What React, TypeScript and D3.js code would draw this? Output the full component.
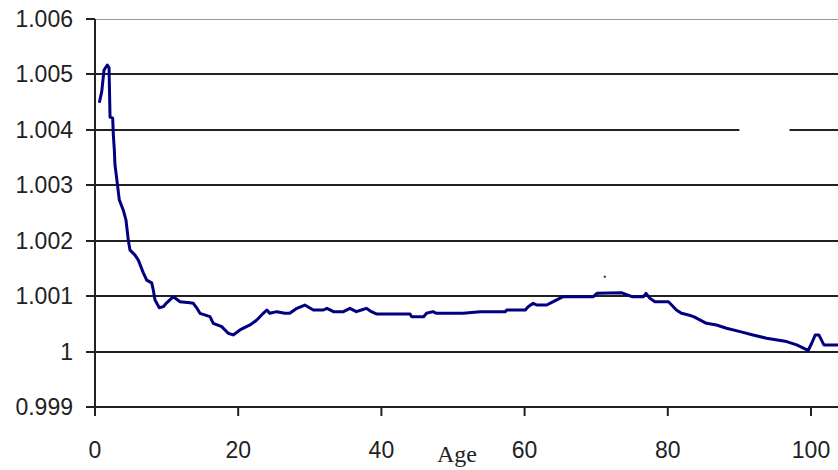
import React from "react";
import * as d3 from "d3";

const ages = [0.6, 0.94, 1.26, 1.72, 1.96, 2.1, 2.47, 2.56, 2.7, 2.79, 3.11, 3.39, 3.95, 4.33, 4.65, 4.89, 5.59, 6.05, 6.75, 7.22, 7.92, 8.14, 8.38, 8.98, 9.54, 10.01, 10.94, 11.87, 13.27, 13.73, 14.2, 14.66, 16.06, 16.52, 17.7, 18.6, 19.3, 20.25, 21.65, 22.6, 23.5, 24.0, 24.4, 25.4, 26.5, 27.2, 28.2, 29.3, 30.5, 31.9, 32.4, 33.3, 34.7, 35.6, 36.5, 37.2, 37.9, 38.6, 39.3, 44.0, 44.2, 45.9, 46.3, 47.2, 47.7, 51.4, 53.8, 57.3, 57.5, 60.1, 60.5, 61.2, 61.7, 63.1, 64.0, 64.9, 65.4, 69.6, 70.1, 73.6, 75.0, 76.6, 76.96, 77.5, 78.2, 80.1, 81.2, 81.9, 82.9, 83.6, 85.4, 86.8, 88.2, 90.1, 91.9, 93.8, 96.6, 98.0, 99.6, 100.1, 100.6, 101.1, 101.8, 103.6, 105];
const ratios = [1.00449, 1.00469, 1.00508, 1.00517, 1.00512, 1.00423, 1.00421, 1.00391, 1.00364, 1.00337, 1.00304, 1.00274, 1.00255, 1.00237, 1.00201, 1.00183, 1.00174, 1.00165, 1.00142, 1.00129, 1.00124, 1.00111, 1.00093, 1.00079, 1.00081, 1.00088, 1.00099, 1.0009, 1.00088, 1.00087, 1.00079, 1.00069, 1.00063, 1.00051, 1.00045, 1.00033, 1.0003, 1.00039, 1.00048, 1.00057, 1.00069, 1.00075, 1.00069, 1.00072, 1.00069, 1.00069, 1.00078, 1.00084, 1.00075, 1.00075, 1.00078, 1.00072, 1.00072, 1.00078, 1.00072, 1.00075, 1.00078, 1.00072, 1.00068, 1.00068, 1.00063, 1.00063, 1.00069, 1.00072, 1.00069, 1.00069, 1.00072, 1.00072, 1.00075, 1.00075, 1.00081, 1.00087, 1.00084, 1.00084, 1.0009, 1.00096, 1.00099, 1.00099, 1.00105, 1.00106, 1.00099, 1.00099, 1.00105, 1.00096, 1.0009, 1.0009, 1.00075, 1.00069, 1.00066, 1.00063, 1.00051, 1.00048, 1.00042, 1.00036, 1.0003, 1.00024, 1.00018, 1.00012, 1.00002, 1.00015, 1.0003, 1.0003, 1.00012, 1.00012, 1.00012];

const yTicks = [0.999, 1, 1.001, 1.002, 1.003, 1.004, 1.005, 1.006];
const yTickLabels = ["0.999", "1", "1.001", "1.002", "1.003", "1.004", "1.005", "1.006"];
const xTicks = [0, 20, 40, 60, 80, 100];
const xTitle = "Age";
const strayPoint = [{ age: 71.2, value: 1.00135 }];
const gridGap = { value: 1.004, from: 90, to: 97 };

export default function App() {
  const W = 838, H = 470;
  const x = d3.scaleLinear().domain([0, 100]).range([95, 811]);
  const y = d3.scaleLinear().domain([0.999, 1.006]).range([407, 19]);
  const xMax = 106;
  const data = ages.map((a, i) => ({ a, v: ratios[i] }));
  const line = d3.line<{ a: number; v: number }>().x(d => x(d.a)).y(d => y(d.v));
  const font = "'Liberation Sans', Arial, sans-serif";

  return (
    <svg width={W} height={H} style={{ position: "absolute", left: 0, top: 0, background: "#fff" }}>
      {yTicks.map((t, i) => {
        const yy = Math.round(y(t));
        if (i === 0) return null;
        if (t === 1.006) {
          return <line key={t} x1={x(0)} x2={x(xMax)} y1={yy + 0.5} y2={yy + 0.5} stroke="#999" strokeWidth={1} />;
        }
        if (t === gridGap.value) {
          return (
            <g key={t}>
              <line x1={x(0)} x2={x(gridGap.from)} y1={yy} y2={yy} stroke="#222" strokeWidth={2} />
              <line x1={x(gridGap.to)} x2={x(xMax)} y1={yy} y2={yy} stroke="#222" strokeWidth={2} />
            </g>
          );
        }
        return <line key={t} x1={x(0)} x2={x(xMax)} y1={yy} y2={yy} stroke="#222" strokeWidth={2} />;
      })}
      {/* x axis */}
      <line x1={x(0)} x2={x(xMax)} y1={Math.round(y(0.999))} y2={Math.round(y(0.999))} stroke="#222" strokeWidth={2} />
      {/* y axis */}
      <line x1={x(0)} x2={x(0)} y1={y(1.006)} y2={y(0.999) + 1} stroke="#222" strokeWidth={2} />
      {yTicks.map((t, i) => {
        const yy = Math.round(y(t));
        return (
          <g key={"yt" + t}>
            <line x1={86} x2={x(0)} y1={yy} y2={yy} stroke="#222" strokeWidth={2} />
            <text x={73} y={yy + 8} textAnchor="end" fontFamily={font} fontSize={23} fill="#222">{yTickLabels[i]}</text>
          </g>
        );
      })}
      {xTicks.map(t => (
        <g key={"xt" + t}>
          <line x1={x(t)} x2={x(t)} y1={y(0.999)} y2={416} stroke="#222" strokeWidth={2} />
          <text x={x(t)} y={458} textAnchor="middle" fontFamily={font} fontSize={23} fill="#222">{t}</text>
        </g>
      ))}
      <text x={457} y={462} textAnchor="middle" fontFamily="'Liberation Serif', 'Times New Roman', serif" fontSize={24} fill="#222">{xTitle}</text>
      <path d={line(data) || ""} fill="none" stroke="#000080" strokeWidth={3} strokeLinejoin="round" />
      {strayPoint.map((p, i) => (
        <rect key={i} x={x(p.age) - 1} y={y(p.value) - 1} width={2} height={2} fill="#333" />
      ))}
    </svg>
  );
}
